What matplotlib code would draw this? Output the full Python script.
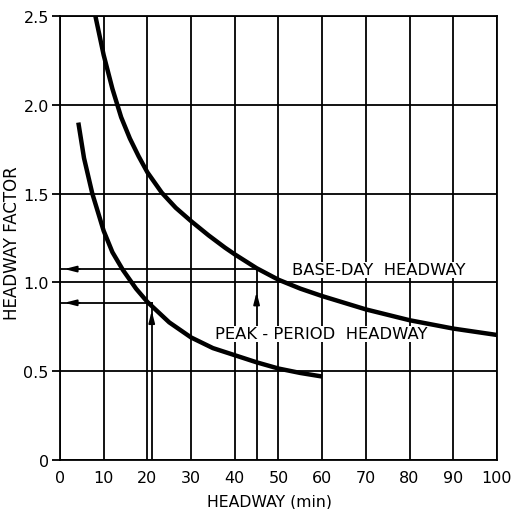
import numpy as np
import matplotlib
matplotlib.use('Agg')
import matplotlib.pyplot as plt

# curves
base_x = [8.1, 10, 12, 14, 16, 18, 20, 23.3, 26.5, 30, 34, 37.8, 40, 45, 50, 55, 60, 70, 80, 90, 100]
base_y = [2.50, 2.28, 2.09, 1.93, 1.81, 1.71, 1.62, 1.505, 1.42, 1.345, 1.265, 1.195, 1.158,
          1.08, 1.015, 0.965, 0.923, 0.848, 0.787, 0.740, 0.704]

peak_x = [4.2, 5.5, 7.4, 10, 12, 14.4, 17.4, 20, 25, 30, 35, 40, 45, 50, 55, 60]
peak_y = [1.90, 1.70, 1.50, 1.29, 1.17, 1.07, 0.965, 0.89, 0.775, 0.69, 0.63, 0.59, 0.55,
          0.515, 0.49, 0.47]

# worked examples (headway -> factor)
base_example = (45, 1.075)
peak_example = (21, 0.885)

x_ticks = list(range(0, 101, 10))
y_ticks = [0, 0.5, 1.0, 1.5, 2.0, 2.5]
y_ticklabels = ['0', '0.5', '1.0', '1.5', '2.0', '2.5']

plt.rcParams['font.family'] = ['DejaVu Sans']

fig = plt.figure(figsize=(5.14, 5.10), dpi=100)
ax = fig.add_axes([0.1167, 0.0961, 0.850, 0.8706])

ax.set_xlim(0, 100)
ax.set_ylim(0, 2.5)
ax.set_xticks(x_ticks)
ax.set_yticks(y_ticks)
ax.set_yticklabels(y_ticklabels)
ax.grid(True, color='black', linewidth=1.3)
ax.set_axisbelow(True)
for sp in ax.spines.values():
    sp.set_linewidth(1.3)
ax.tick_params(axis='x', length=0, pad=7, labelsize=11.5)
ax.tick_params(axis='y', length=6, width=1.3, pad=2, labelsize=11.5)

# curves
ax.plot(base_x, base_y, color='black', linewidth=3.2, solid_capstyle='butt')
ax.plot(peak_x, peak_y, color='black', linewidth=3.2, solid_capstyle='butt')

# example lines with arrowheads
head = '-|>,head_length=0.7,head_width=0.18'
for (hx, fy), tip in [(base_example, 0.945), (peak_example, 0.84)]:
    ax.plot([hx, hx], [0, fy], color='black', linewidth=1.3)
    ax.plot([0, hx], [fy, fy], color='black', linewidth=1.3)
    ax.annotate('', xy=(hx, tip), xytext=(hx, tip - 0.05),
                arrowprops=dict(arrowstyle=head, color='black', lw=1.3,
                                shrinkA=0, shrinkB=0))
    ax.annotate('', xy=(1.0, fy), xytext=(4.5, fy),
                arrowprops=dict(arrowstyle=head, color='black', lw=1.3,
                                shrinkA=0, shrinkB=0))

box = dict(facecolor='white', edgecolor='none', pad=0.5)
ax.text(73, 1.07, 'BASE-DAY  HEADWAY', fontsize=11.8, ha='center', va='center', bbox=box)
ax.text(59.7, 0.71, 'PEAK - PERIOD  HEADWAY', fontsize=11.8, ha='center', va='center', bbox=box)

ax.set_xlabel('HEADWAY (min)', fontsize=11.3)
ax.set_ylabel('HEADWAY FACTOR', fontsize=12)
ax.xaxis.set_label_coords(0.48, -0.075)
ax.yaxis.set_label_coords(-0.09, 0.49)

fig.savefig('out.png', dpi=100)
